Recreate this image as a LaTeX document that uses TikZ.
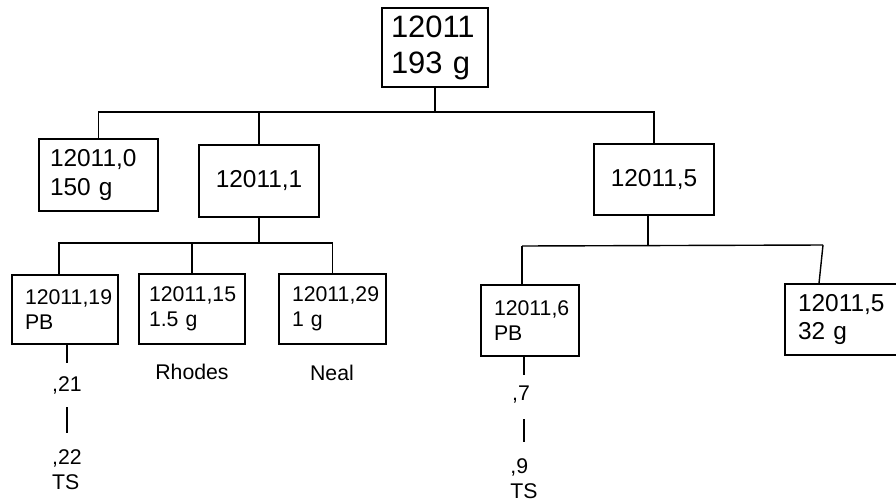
\documentclass[tikz,border=0pt]{standalone}
\usepackage{fontspec}
\setmainfont{Liberation Sans}
\usepackage{tikz}
\tikzset{%
  bigblock/.style={rectangle, draw, align=left, inner ysep=0pt, font=\fontsize{17.6}{20.4}\selectfont},
  block/.style={rectangle, draw, align=left, inner ysep=0pt, font=\fontsize{13.9}{16.2}\selectfont},
  smallblock/.style={rectangle, draw, align=left, inner ysep=0pt, font=\fontsize{12.1}{14.2}\selectfont},
  note/.style={inner sep=0pt, align=left, font=\fontsize{12.1}{14.2}\selectfont},
  tree/.style={draw, line width=0.8pt}}

\begin{document}
\begin{tikzpicture}[x=0.02cm, y=-0.02cm, line width=0.8pt]
    \clip (0,0) rectangle (896,501);
    % first split
    \node [bigblock, inner xsep=0.18cm, text width=1.76cm, minimum height=1.58cm] (root) at (435,47.5) {12011\\193 g};
    \node [block, inner xsep=0.22cm, text width=1.94cm, minimum height=1.44cm] (s0) at (98.5,175) {12011,0\\150 g};
    \node [block, align=center, minimum width=2.4cm, minimum height=1.44cm] (s1) at (259,181) {12011,1};
    \node [block, align=center, minimum width=2.4cm, minimum height=1.42cm] (s5) at (654,179.5) {12011,5};
    % splits of ,1 and ,5
    \node [smallblock, inner xsep=0.26cm, text width=1.6cm, minimum height=1.38cm] (s19) at (65,309.5) {12011,19\\PB};
    \node [smallblock, inner xsep=0.2cm, text width=1.72cm, minimum height=1.4cm] (s15) at (192,309) {12011,15\\1.5 g};
    \node [smallblock, inner xsep=0.26cm, text width=1.62cm, minimum height=1.4cm] (s29) at (332.5,309) {12011,29\\1 g};
    \node [smallblock, inner xsep=0.26cm, text width=1.44cm, minimum height=1.42cm] (s6) at (530,320.5) {12011,6\\PB};
    \node [block, font=\fontsize{13.9}{16.4}\selectfont, inner xsep=0.26cm, text width=2.08cm, minimum height=1.42cm] (s5b) at (850,319.5) {12011,5\\32 g};
    \node [note] (rhodes) at (192,372) {Rhodes};
    \node [note] (neal) at (332,373) {Neal};
    \node [note] (c21) at (67,385) {,21};
    \node [note] (c22) at (67,469.5) {,22\\TS};
    \node [note] (c7) at (521,395) {,7};
    \node [note] (c9) at (524,479) {,9\\TS};

    \coordinate (bus1) at (437,112);
    \coordinate (bus2) at (256,243);
    \coordinate (bus3a) at (522,246);
    \coordinate (bus3b) at (823,245);

    \path [tree] (root.south) -- (root.south |- bus1);
    \path [tree] (s0.north) -- (s0.north |- bus1) -- (s5.north |- bus1) -- (s5.north);
    \path [tree] (s1.north) -- (s1.north |- bus1);

    \path [tree] (s1.south) -- (s1.south |- bus2);
    \path [tree] ([xshift=-0.12cm]s19.north) -- ([xshift=-0.12cm]s19.north |- bus2) -- (s29.north |- bus2) -- (s29.north);
    \path [tree] (s15.north) -- (s15.north |- bus2);

    \path [tree] ([xshift=-0.12cm]s5.south) -- ([xshift=-0.12cm]s5.south |- bus3a);
    \path [tree] (bus3a) -- (bus3b);
    \path [tree] (bus3a) -- (bus3a |- s6.north);
    \path [tree] (bus3b) -- ([xshift=-0.62cm]s5b.north);

    \path [tree, shorten >=0.26cm] (c21 |- s19.south) -- (c21.north);
    \path [tree, shorten <=0.26cm, shorten >=0.32cm] (c21.south) -- (c21.south |- c22.north);
    \path [tree, shorten >=0.22cm] (c9 |- s6.south) -- (c9 |- c7.north);
    \path [tree, shorten <=0.3cm, shorten >=0.32cm] (c9 |- c7.south) -- (c9.north);
\end{tikzpicture}
\end{document}
